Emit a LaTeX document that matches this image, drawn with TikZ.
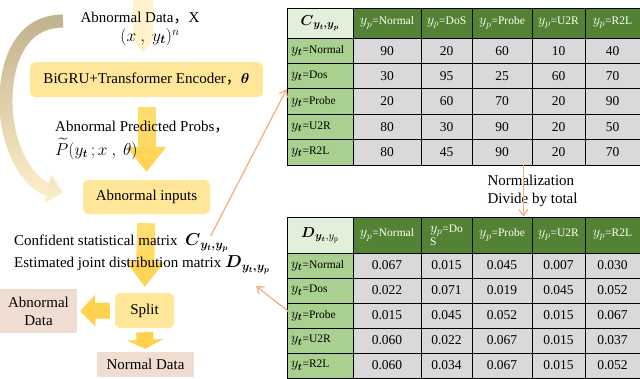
\documentclass[tikz,border=0pt]{standalone}
\usepackage{amsmath}
\usepackage{fontspec}
\setmainfont{Liberation Serif}
\newfontfamily\cjk{Noto Sans CJK SC}
\usepackage{tikz}
\usetikzlibrary{arrows.meta, positioning, calc, backgrounds, fadings}

\definecolor{boxyellow}{HTML}{FFE699}
\definecolor{arrowyellow}{HTML}{FFE17A}
\definecolor{deepyellow}{HTML}{FFD24D}
\definecolor{paleyellow}{HTML}{FFF2CC}
\definecolor{khaki}{HTML}{BFB28C}
\definecolor{databeige}{HTML}{F0DDD2}
\definecolor{hdcorner}{HTML}{E2EFDA}
\definecolor{hdgreen}{HTML}{548235}
\definecolor{labgreen}{HTML}{A9D08E}
\definecolor{datagray}{HTML}{D9D9D9}
\definecolor{linkorange}{HTML}{F4B183}

\newcommand{\yp}{{\fontsize{14}{14}\selectfont$y_p$}}
\newcommand{\yt}{{\fontsize{14}{14}\selectfont$y_{\boldsymbol{t}}$}}

\begin{document}
\begin{tikzpicture}[x=1pt, y=-1pt, font=\fontsize{15}{18}\selectfont]
    % Define styles
    \tikzstyle{yelbox} = [rectangle, rounded corners=5pt, fill=boxyellow, inner sep=2pt]
    \tikzstyle{databox} = [rectangle, fill=databeige, align=center, inner sep=2pt]
    \tikzstyle{bigarrow} = [draw=arrowyellow, line width=18pt]
    \tikzstyle{palearrow} = [draw=paleyellow, line width=20pt, -{Triangle[width=20pt, length=12pt]}]
    \tikzstyle{orarrow} = [draw=linkorange, line width=1.3pt, -{Straight Barb[length=6pt, width=9pt]}]
    \tikzstyle{label} = [inner sep=0pt]
    \tikzstyle{cell} = [rectangle, draw=black, line width=0.8pt, inner sep=0pt, align=center]
    \tikzstyle{hdcell} = [cell, fill=hdgreen, text=white, font=\fontsize{11.5}{13}\selectfont]
    \tikzstyle{cornercell} = [cell, fill=hdcorner, font=\fontsize{15}{16}\selectfont]
    \tikzstyle{labcell} = [cell, fill=labgreen, inner xsep=4pt, text width=58pt, align=left, font=\fontsize{11.5}{13}\selectfont]
    \tikzstyle{datacell} = [cell, fill=datagray, font=\fontsize{13.5}{15}\selectfont]

    \useasboundingbox (0,0) rectangle (640,378);

    % Left flow
    \coordinate (feedtop) at (143,0);
    \coordinate (feedend) at (143,52);
    \coordinate (loopstart) at (63,21);
    \node[label] (xdata) at (140,18) {Abnormal Data{\cjk ，}X};
    \node[label, font=\fontsize{17}{18}\selectfont] (xpair) at (150,37) {$(x\ ,\ y_{\boldsymbol{t}})^n$};
    \node[yelbox, minimum width=233pt, minimum height=35pt] (bigru) at (146.5,79.5) {BiGRU+Transformer Encoder{\cjk ，}$\boldsymbol{\theta}$};
    \node[label, anchor=west] (probs) at (55,127) {Abnormal Predicted Probs{\cjk ，}};
    \node[label, anchor=west, font=\fontsize{16}{17}\selectfont] (ptilde) at (55,149) {$\widetilde{P}(y_{\boldsymbol{t}}\,;x\ ,\ \theta)$};
    \node[yelbox, minimum width=127pt, minimum height=34pt] (inputs) at (146.5,197) {Abnormal inputs};
    \node[label, anchor=west] (cmat) at (14,243) {Confident statistical matrix\ \ {\fontsize{17}{17}\selectfont$\boldsymbol{C}_{\boldsymbol{y_t,y_p}}$}};
    \node[label, anchor=west] (dmat) at (14,265) {Estimated joint distribution matrix {\fontsize{17}{17}\selectfont$\boldsymbol{D}_{\boldsymbol{y_t,y_p}}$}};
    \node[yelbox, minimum width=59pt, minimum height=35pt] (split) at (144.5,310.5) {Split};
    \node[databox, minimum width=77pt, minimum height=44pt] (abdata) at (38.5,311) {Abnormal\\Data};
    \node[databox, minimum width=97pt, minimum height=25pt] (normal) at (145.5,364.5) {Normal Data};

    % Arrows behind the texts
    \begin{scope}[on background layer]
        \draw[palearrow] (feedtop) -- (feedend);
        \draw[draw=paleyellow, line width=13pt, shorten >=20pt, -{Triangle[width=29pt, length=16pt]}]
            (loopstart) .. controls (22,21) and (5,60) .. (6,105) .. controls (7,150) and (30,185) .. (inputs.west);
        \draw[draw=khaki, line width=13pt, path fading=south, shorten >=20pt, -{Triangle[width=29pt, length=16pt]}]
            (loopstart) .. controls (22,21) and (5,60) .. (6,105) .. controls (7,150) and (30,185) .. (inputs.west);
        \draw[bigarrow, shorten <=10pt, shorten >=8pt, -{Triangle[width=38pt, length=25pt]}] (bigru.south) -- (inputs.north);
        \draw[bigarrow, draw=deepyellow, path fading=north, shorten <=10pt, shorten >=8pt, -{Triangle[width=38pt, length=25pt]}] (bigru.south) -- (inputs.north);
        \draw[bigarrow, shorten <=9pt, shorten >=6pt, -{Triangle[width=37pt, length=25pt]}] (inputs.south) -- (split.north);
        \draw[bigarrow, draw=deepyellow, path fading=north, shorten <=9pt, shorten >=6pt, -{Triangle[width=37pt, length=25pt]}] (inputs.south) -- (split.north);
        \draw[bigarrow, draw=deepyellow, line width=16pt, shorten <=5pt, shorten >=3pt, -{Triangle[width=31pt, length=15pt]}] (split.west) -- (abdata.east);
        \draw[bigarrow, draw=deepyellow, line width=17pt, shorten <=4pt, shorten >=3pt, -{Triangle[width=36pt, length=9pt]}] (split.south) -- (normal.north);
    \end{scope}

    % Table C
    \node[cornercell, minimum width=66pt, minimum height=30pt] (c0-0) at (320,23) {$\boldsymbol{C}_{\boldsymbol{y_t,y_p}}$};
    \foreach \xa/\xb/\lab [count=\j] in {353/421/Normal, 421/472/DoS, 472/532/Probe, 532/585/U2R, 585/640/R2L}
        \node[hdcell, minimum width={(\xb-\xa)*1pt}, minimum height=30pt] (c0-\j) at ({(\xa+\xb)/2},23) {\yp=\lab};
    \foreach \ya/\lab/\va/\vb/\vc/\vd/\ve [count=\i] in {38/Normal/90/20/60/10/40, 63.4/Dos/30/95/25/60/70, 88.8/Probe/20/60/70/20/90, 114.2/U2R/80/30/90/20/50, 139.6/R2L/80/45/90/20/70} {
        \node[labcell, minimum height=25.4pt] (c\i-0) at (320,\ya+12.7) {\yt=\lab};
        \foreach \xa/\xb/\v [count=\j] in {353/421/\va, 421/472/\vb, 472/532/\vc, 532/585/\vd, 585/640/\ve}
            \node[datacell, minimum width={(\xb-\xa)*1pt}, minimum height=25.4pt] (c\i-\j) at ({(\xa+\xb)/2},\ya+12.7) {\v};
    }

    % Table D
    \node[cornercell, minimum width=66pt, minimum height=36pt] (d0-0) at (320,235) {$\boldsymbol{D}_{\boldsymbol{y_t},y_{\mathrm{p}}}$};
    \foreach \xa/\xb/\lab [count=\j] in {353/421/Normal, 421/472/Do\\S, 472/532/Probe, 532/585/U2R, 585/640/R2L}
        \node[hdcell, align=left, minimum width={(\xb-\xa)*1pt}, minimum height=36pt] (d0-\j) at ({(\xa+\xb)/2},235) {\yp=\lab};
    \foreach \ya/\lab/\va/\vb/\vc/\vd/\ve [count=\i] in {253/Normal/0.067/0.015/0.045/0.007/0.030, 278/Dos/0.022/0.071/0.019/0.045/0.052, 303/Probe/0.015/0.045/0.052/0.015/0.067, 328/U2R/0.060/0.022/0.067/0.015/0.037, 353/R2L/0.060/0.034/0.067/0.015/0.052} {
        \node[labcell, minimum height=25pt] (d\i-0) at (320,\ya+12.5) {\yt=\lab};
        \foreach \xa/\xb/\v [count=\j] in {353/421/\va, 421/472/\vb, 472/532/\vc, 532/585/\vd, 585/640/\ve}
            \node[datacell, minimum width={(\xb-\xa)*1pt}, minimum height=25pt] (d\i-\j) at ({(\xa+\xb)/2},\ya+12.5) {\v};
    }

    \node[anchor=north west, align=left] (norm) at (484,172) {Normalization\\Divide by total};

    % Links between matrices
    \draw[orarrow] ([xshift=-18pt, yshift=-2pt]cmat.north east) -- (c2-0.south west);
    \draw[orarrow] ([xshift=-9pt]c5-3.south east) -- ([xshift=-9pt]d0-3.north east);
    \draw[orarrow] ([xshift=3pt, yshift=3pt]d3-0.west) -- ([xshift=-14pt, yshift=-12pt]dmat.south east);

\end{tikzpicture}
\end{document}
